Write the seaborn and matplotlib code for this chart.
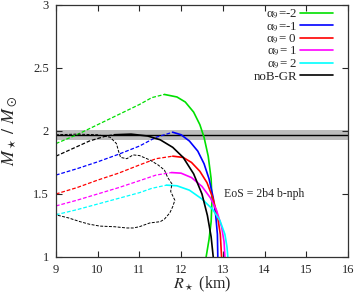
import numpy as np
import pandas as pd
import matplotlib
matplotlib.use("Agg")
import matplotlib.pyplot as plt
import seaborn as sns

# mass-radius curves: dashed (left of maximum) + solid (right of maximum)
green_dash_r = [9.0, 9.5, 10.0, 10.5, 11.0, 11.3, 11.6]
green_dash_m = [1.90, 1.97, 2.05, 2.13, 2.21, 2.265, 2.29]
green_sol_r = [11.6, 11.9, 12.1, 12.3, 12.45, 12.55, 12.65, 12.72, 12.74, 12.72, 12.67, 12.6]
green_sol_m = [2.29, 2.27, 2.23, 2.15, 2.05, 1.95, 1.80, 1.62, 1.45, 1.28, 1.14, 1.0]

blue_dash_r = [9.0, 9.5, 10.0, 10.5, 11.0, 11.4, 11.8]
blue_dash_m = [1.65, 1.70, 1.755, 1.815, 1.88, 1.95, 1.99]
blue_sol_r = [11.8, 12.0, 12.2, 12.4, 12.55, 12.67, 12.77, 12.83, 12.87, 12.88]
blue_sol_m = [1.99, 1.97, 1.92, 1.84, 1.74, 1.62, 1.47, 1.33, 1.18, 1.0]

red_dash_r = [9.0, 9.5, 10.0, 10.5, 11.0, 11.4, 11.8]
red_dash_m = [1.50, 1.55, 1.61, 1.665, 1.73, 1.78, 1.80]
red_sol_r = [11.8, 12.05, 12.25, 12.45, 12.62, 12.76, 12.87, 12.94, 12.97]
red_sol_m = [1.80, 1.79, 1.75, 1.68, 1.59, 1.47, 1.33, 1.18, 1.0]

mag_dash_r = [9.0, 9.5, 10.0, 10.5, 11.0, 11.4, 11.77]
mag_dash_m = [1.405, 1.45, 1.50, 1.55, 1.605, 1.65, 1.67]
mag_sol_r = [11.77, 12.0, 12.25, 12.5, 12.7, 12.85, 12.97, 13.03, 13.05]
mag_sol_m = [1.67, 1.665, 1.63, 1.56, 1.47, 1.37, 1.24, 1.12, 1.0]

cyan_dash_r = [9.0, 9.5, 10.0, 10.5, 11.0, 11.3, 11.65]
cyan_dash_m = [1.335, 1.375, 1.42, 1.465, 1.51, 1.545, 1.57]
cyan_sol_r = [11.65, 11.9, 12.2, 12.5, 12.75, 12.93, 13.05, 13.1, 13.12]
cyan_sol_m = [1.57, 1.565, 1.53, 1.46, 1.38, 1.29, 1.18, 1.08, 1.0]

gr_dash_r = [9.0, 9.4, 9.8, 10.2, 10.4]
gr_dash_m = [1.80, 1.86, 1.92, 1.96, 1.97]
gr_sol_r = [10.4, 10.8, 11.2, 11.5, 11.8, 12.05, 12.3, 12.5, 12.63, 12.72, 12.77]
gr_sol_m = [1.97, 1.975, 1.96, 1.93, 1.87, 1.79, 1.66, 1.50, 1.33, 1.16, 1.0]

# dashed constraint contour
cont_r = [9.0, 9.5, 10.0, 10.3, 10.45, 10.5, 10.55, 10.7, 10.85, 11.0, 11.25, 11.45,
          11.6, 11.68, 11.78, 11.75, 11.85, 11.8, 11.73, 11.6, 11.5, 11.25, 11.0, 10.85,
          10.7, 10.4, 10.05, 9.8, 9.58, 9.3, 9.05, 9.0]
cont_m = [1.97, 1.975, 1.97, 1.95, 1.90, 1.84, 1.79, 1.78, 1.81, 1.805, 1.77, 1.73,
          1.69, 1.63, 1.58, 1.52, 1.45, 1.40, 1.35, 1.30, 1.28, 1.27, 1.24, 1.23,
          1.23, 1.24, 1.245, 1.26, 1.28, 1.31, 1.33, 1.35]

labels = [r"α$_9$=-2", r"α$_9$=-1", r"α$_9$= 0", r"α$_9$= 1", r"α$_9$= 2", "noB-GR"]
colors = ["#00e000", "#0000ff", "#ff0000", "#ff00ff", "#00ffff", "#000000"]

psr_m, psr_err = 1.97, 0.04

sns.set_style("ticks")
plt.rcParams["font.family"] = ["Liberation Serif", "DejaVu Serif"]
plt.rcParams["mathtext.fontset"] = "stix"

fig = plt.figure(figsize=(3.54, 2.94), dpi=100)
ax = fig.add_axes([0.158, 0.126, 0.825, 0.857])

ax.axhspan(psr_m - psr_err, psr_m + psr_err, color="#bdbdbd", lw=0, zorder=0)
ax.axhline(psr_m, color="black", lw=1.0, zorder=1)

curves = [
    (green_dash_r, green_dash_m, green_sol_r, green_sol_m),
    (blue_dash_r, blue_dash_m, blue_sol_r, blue_sol_m),
    (red_dash_r, red_dash_m, red_sol_r, red_sol_m),
    (mag_dash_r, mag_dash_m, mag_sol_r, mag_sol_m),
    (cyan_dash_r, cyan_dash_m, cyan_sol_r, cyan_sol_m),
    (gr_dash_r, gr_dash_m, gr_sol_r, gr_sol_m),
]
for (dr, dm, sr, sm), c, lab in zip(curves, colors, labels):
    sns.lineplot(x=dr, y=dm, ax=ax, color=c, lw=0.9, sort=False, estimator=None,
                 linestyle=(0, (3, 1.5)))
    sns.lineplot(x=sr, y=sm, ax=ax, color=c, lw=1.2, sort=False, estimator=None,
                 label=lab)

sns.lineplot(x=cont_r, y=cont_m, ax=ax, color="black", lw=0.7, sort=False,
             estimator=None, linestyle=(0, (3, 1.5)))

ax.text(13.02, 1.50, "EoS = 2b4 b-nph", fontsize=8.5, va="center")

ax.set_xlim(9, 16)
ax.set_ylim(1, 3)
ax.set_xticks(range(9, 17))
ax.set_yticks([1, 1.5, 2, 2.5, 3])
ax.set_yticklabels(["1", "1.5", "2", "2.5", "3"])
ax.tick_params(direction="in", top=True, right=True, length=4, width=0.8,
               labelsize=9, pad=5)
for s in ax.spines.values():
    s.set_linewidth(0.9)
    s.set_color("#333333")

ax.set_xlabel(r"$R_\star$ (km)", fontsize=11.5, labelpad=-1)
ax.set_ylabel(r"$M_\star\ /\ M_\odot$", fontsize=13, labelpad=10)

ax.legend(loc="upper right", frameon=False, markerfirst=False, fontsize=9.3,
          handlelength=2.55, labelspacing=-0.04, handletextpad=0.25,
          borderaxespad=0.0, borderpad=0.0,
          bbox_to_anchor=(0.949, 0.988))

fig.savefig("out.png", dpi=100)
